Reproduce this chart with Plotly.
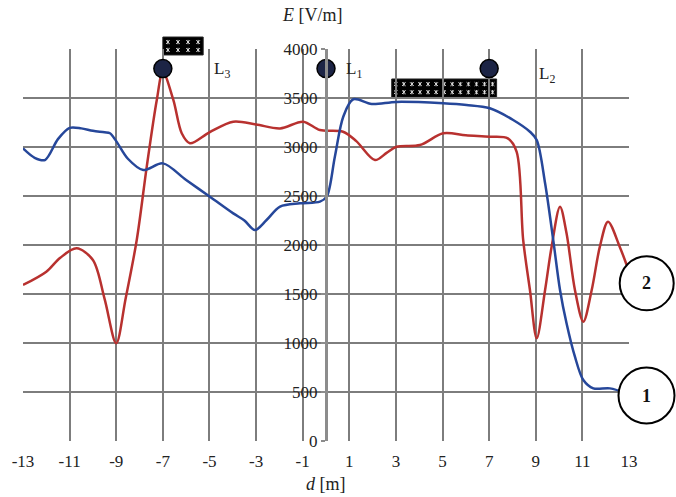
import plotly.graph_objects as go

# ---- data ----
d_blue = [-13, -12.5, -12.06, -11.5, -11.0, -10.5, -10.0, -9.5, -9.27, -9.0, -8.5, -7.84, -7.0,
          -6.0, -4.98, -3.98, -3.5, -3.05, -2.55, -1.97, -1.12, -0.26, 0.03, 0.38, 0.74, 1.17,
          1.96, 3.03, 5.03, 6.03, 7.03, 8.03, 8.75, 9.04, 9.4, 9.75, 10.04, 10.32, 10.68, 11.04,
          11.47, 12.18, 12.9]
E_blue = [2986, 2890, 2867, 3080, 3195, 3190, 3165, 3150, 3140, 3060, 2880, 2765, 2833,
          2663, 2493, 2323, 2250, 2153, 2255, 2391, 2425, 2442, 2493, 2901, 3309, 3487,
          3439, 3460, 3446, 3429, 3395, 3276, 3156, 3071, 2630, 2050, 1541, 1201, 860, 622,
          537, 537, 486]

d_red = [-13, -12.0, -11.4, -10.7, -10.0, -9.5, -9.0, -8.6, -8.12, -7.69, -7.26, -7.0, -6.55,
         -6.19, -5.84, -5.0, -3.98, -3.0, -1.97, -0.98, -0.26, 0.73, 1.3, 2.1, 2.6, 3.03, 4.03,
         5.03, 6.0, 7.03, 7.8, 8.18, 8.46, 8.75, 9.04, 9.4, 9.68, 10.04, 10.32, 10.68, 11.04,
         11.4, 11.75, 12.1, 12.6, 12.9]
E_red = [1592, 1728, 1870, 1966, 1847, 1450, 997, 1450, 2051, 2800, 3480, 3768, 3480,
         3140, 3038, 3150, 3258, 3230, 3190, 3258, 3173, 3156, 3060, 2867, 2940, 3003, 3020,
         3140, 3120, 3105, 3088, 2950, 2051, 1541, 1048, 1541, 1983, 2391, 2120, 1541, 1218,
         1541, 1983, 2238, 1983, 1796]

source_d = [-7, 0, 7]
source_E = [3800, 3800, 3800]
source_labels = ["L<sub>3</sub>", "L<sub>1</sub>", "L<sub>2</sub>"]
label_d = [-4.48, 1.18, 9.5]
label_E = [3786, 3786, 3735]

# patterned blocks: (d0, d1, E0, E1, columns)
blocks = [(-7.0, -5.27, 3939, 4122, 4), (2.82, 7.32, 3507, 3694, 13)]

x_ticks = list(range(-13, 14, 2))
y_ticks = list(range(0, 4001, 500))

FONT = "Liberation Serif"
GRID = "#7d7d7d"
XMIN, XMAX, YMIN, YMAX = -13, 13, 0, 4000
W, H = 606.0, 392.0  # plot area in px


def px(d):
    return (d - XMIN) / (XMAX - XMIN)


def py(e):
    return (e - YMIN) / (YMAX - YMIN)


fig = go.Figure()

# block rectangles + their dotted pattern (drawn as paper shapes so nothing is clipped)
for d0, d1, e0, e1, ncol in blocks:
    fig.add_shape(type="rect", xref="paper", yref="paper", layer="between",
                  x0=px(d0), x1=px(d1), y0=py(e0), y1=py(e1),
                  fillcolor="black", line=dict(color="#222", width=1))
    step = (d1 - d0) / ncol
    sx, sy = 1.8 / W, 1.8 / H
    parts = []
    for r in (0.28, 0.72):
        for c in range(ncol):
            cx = px(d0 + step * (c + 0.5))
            cy = py(e0 + (e1 - e0) * r)
            parts.append("M%.5f,%.5f L%.5f,%.5f M%.5f,%.5f L%.5f,%.5f M%.5f,%.5f L%.5f,%.5f" % (
                cx - sx, cy - sy, cx + sx, cy + sy,
                cx - sx, cy + sy, cx + sx, cy - sy,
                cx, cy - sy * 1.2, cx, cy + sy * 1.2))
    fig.add_shape(type="path", xref="paper", yref="paper", layer="between",
                  path=" ".join(parts), line=dict(color="#dddddd", width=1))

fig.add_trace(go.Scatter(x=d_red, y=E_red, mode="lines",
                         line=dict(color="#b8312f", width=2.5, shape="spline", smoothing=0.9),
                         showlegend=False, name="2"))
fig.add_trace(go.Scatter(x=d_blue, y=E_blue, mode="lines",
                         line=dict(color="#26479a", width=2.5, shape="spline", smoothing=0.9),
                         showlegend=False, name="1"))
fig.add_trace(go.Scatter(x=source_d, y=source_E, mode="markers",
                         marker=dict(size=18, color="#1c2445", line=dict(color="black", width=1.5)),
                         showlegend=False, cliponaxis=False))

for t, xd, yd in zip(source_labels, label_d, label_E):
    fig.add_annotation(x=xd, y=yd, xref="x", yref="y", text=t, showarrow=False,
                       xanchor="center", yanchor="middle",
                       font=dict(family=FONT, size=17, color="#222"))

# white backgrounds behind y tick labels
for v in y_ticks:
    n = len(str(v))
    wpx = n * 8.5 + 4
    fig.add_shape(type="rect", xref="paper", yref="paper", layer="between",
                  x0=px(0) - (wpx + 4) / W, x1=px(0) - 3 / W,
                  y0=py(v) - 7 / H, y1=py(v) + 7 / H,
                  fillcolor="white", line=dict(width=0))

# circled curve numbers
for num, cx, cy, r in [("2", 646.7, 283.3, 27), ("1", 646.5, 395.5, 28)]:
    fig.add_shape(type="circle", xref="paper", yref="paper",
                  x0=(cx - r - 23) / W, x1=(cx + r - 23) / W,
                  y0=(441 - cy - r) / H, y1=(441 - cy + r) / H,
                  fillcolor="white", line=dict(color="black", width=2), layer="above")
    fig.add_annotation(x=(cx - 23) / W, y=(441 - cy) / H, xref="paper", yref="paper",
                       text="<b>%s</b>" % num, showarrow=False, xanchor="center", yanchor="middle",
                       font=dict(family=FONT, size=18, color="#111"))

fig.add_annotation(x=(312.5 - 23) / W, y=(441 - 15) / H, xref="paper", yref="paper",
                   xanchor="center", yanchor="middle",
                   text="<i>E</i> [V/m]", showarrow=False, font=dict(family=FONT, size=18, color="#222"))
fig.add_annotation(x=px(0), y=(441 - 484) / H, xref="paper", yref="paper",
                   xanchor="center", yanchor="middle",
                   text="<i>d</i> [m]", showarrow=False, font=dict(family=FONT, size=18, color="#222"))

fig.update_layout(
    width=676, height=497,
    margin=dict(l=23, r=47, t=49, b=56),
    plot_bgcolor="white", paper_bgcolor="white",
    xaxis=dict(range=[XMIN, XMAX], tickvals=x_ticks, ticktext=[str(v) for v in x_ticks],
               showgrid=True, gridcolor=GRID, gridwidth=2, zeroline=False,
               showline=False, ticks="outside", ticklen=5, tickcolor="rgba(0,0,0,0)",
               tickfont=dict(family=FONT, size=17, color="#222")),
    yaxis=dict(range=[YMIN, YMAX], tickvals=y_ticks, anchor="free", position=px(0), side="left",
               showgrid=True, gridcolor=GRID, gridwidth=2, zeroline=False,
               showline=True, linecolor="#8c8c8c", linewidth=3,
               ticks="outside", ticklen=4, tickcolor="#8c8c8c", tickwidth=2,
               tickfont=dict(family=FONT, size=17, color="#222")),
)

fig.write_html("out.html")
